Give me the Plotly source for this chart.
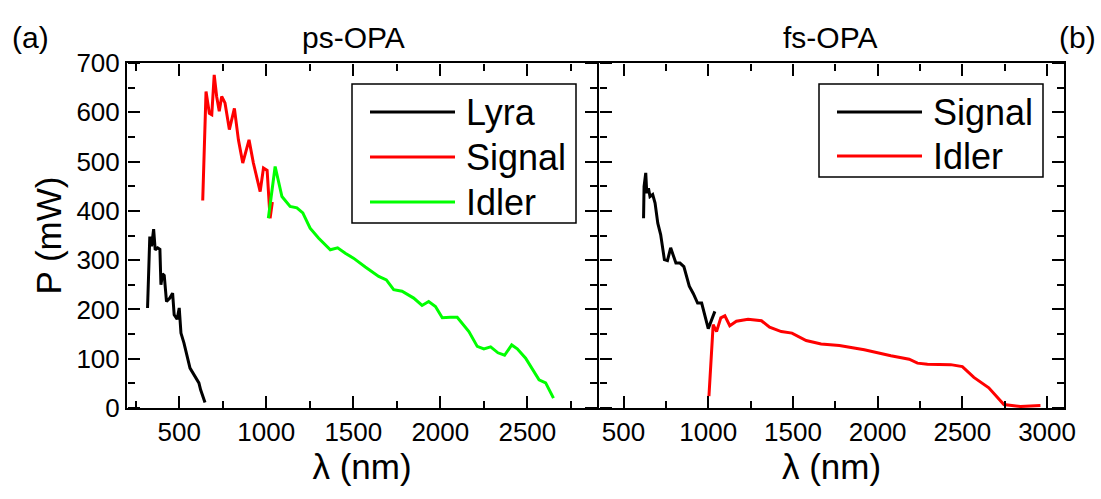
import plotly.graph_objects as go

# ---------------- data ----------------
lyra_x = [318, 331, 341, 353, 362, 376, 389, 395, 404, 414, 427, 446, 462, 471, 488, 500, 510, 527, 562, 613, 623, 648]
lyra_y = [203, 348, 328, 363, 321, 325, 322, 250, 272, 269, 216, 223, 233, 189, 180, 203, 152, 132, 81, 51, 37, 11]

ps_signal_x = [635, 654, 673, 687, 701, 715, 730, 744, 763, 788, 817, 840, 865, 901, 926, 955, 965, 984, 1005, 1022, 1035]
ps_signal_y = [421, 642, 598, 595, 676, 632, 602, 632, 619, 565, 608, 544, 497, 544, 497, 450, 439, 487, 482, 385, 418]

ps_idler_x = [1012, 1051, 1090, 1137, 1176, 1210, 1252, 1300, 1368, 1410, 1454, 1501, 1569, 1646, 1690, 1732, 1780,
              1847, 1895, 1933, 1972, 2011, 2058, 2097, 2164, 2212, 2250, 2289, 2331, 2369, 2410, 2442, 2490, 2567,
              2605, 2650]
ps_idler_y = [385, 490, 429, 409, 406, 396, 365, 345, 321, 325, 314, 304, 286, 267, 260, 240, 237,
              223, 208, 216, 206, 183, 184, 184, 155, 125, 120, 124, 112, 107, 128, 120, 101, 57,
              51, 20]

fs_signal_x = [618, 621, 631, 637, 647, 656, 672, 686, 702, 719, 741, 759, 778, 809, 833, 856, 888, 912, 937, 961, 1000, 1039]
fs_signal_y = [385, 449, 477, 436, 446, 429, 433, 416, 375, 352, 301, 299, 325, 294, 294, 287, 247, 232, 213, 213, 161, 196]

fs_idler_x = [1004, 1029, 1049, 1074, 1098, 1127, 1166, 1235, 1314, 1362, 1431, 1494, 1578, 1666, 1774, 1921,
              2078, 2186, 2235, 2294, 2431, 2500, 2568, 2656, 2745, 2843, 2961]
fs_idler_y = [24, 169, 155, 183, 187, 167, 176, 180, 177, 164, 155, 152, 137, 130, 127, 118,
              106, 99, 91, 89, 88, 84, 62, 41, 7, 3, 5]

panel_titles = ["ps-OPA", "fs-OPA"]
panel_labels = ["(a)", "(b)"]
x_title = "λ (nm)"
y_title = "P (mW)"

FONT = "Liberation Sans, Arial, sans-serif"
BLACK = "#000000"
RED = "#ff0000"
GREEN = "#00ff00"

W, H = 1101, 499
ML, MR, MT, MB = 127, 37, 63, 91
PW, PH = W - ML - MR, H - MT - MB


def px(xp):
    return (xp - ML) / PW


def py(yp):
    return 1 - (yp - MT) / PH


split = px(597)
split2 = split + 2 / PW
X1_RANGE = [200, 2900]
X2_RANGE = [355, 3100]
Y_RANGE = [0, 700]
X_DTICK, Y_DTICK = 500, 100

fig = go.Figure()

LW = 3
series = [
    ("Lyra", lyra_x, lyra_y, BLACK, "x", "y"),
    ("Signal", ps_signal_x, ps_signal_y, RED, "x", "y"),
    ("Idler", ps_idler_x, ps_idler_y, GREEN, "x", "y"),
    ("Signal", fs_signal_x, fs_signal_y, BLACK, "x2", "y2"),
    ("Idler", fs_idler_x, fs_idler_y, RED, "x2", "y2"),
]
for name, xs, ys, col, xa, ya in series:
    fig.add_trace(go.Scatter(x=xs, y=ys, mode="lines", name=name, showlegend=False,
                             line=dict(color=col, width=LW), xaxis=xa, yaxis=ya))

tickfont = dict(family=FONT, size=26, color=BLACK)
title_font = dict(family=FONT, size=35, color=BLACK)

main_axis = dict(showline=True, linecolor=BLACK, linewidth=2, mirror=True, ticks="",
                 showgrid=False, zeroline=False, tickfont=tickfont)

layout = dict(
    width=W, height=H,
    margin=dict(l=ML, r=MR, t=MT, b=MB),
    paper_bgcolor="white", plot_bgcolor="white",
    font=dict(family=FONT, color=BLACK),
    showlegend=False,
    xaxis=dict(domain=[0, split], range=X1_RANGE, tick0=0, dtick=X_DTICK, anchor="y",
               title=dict(text=x_title, font=title_font, standoff=6), **main_axis),
    yaxis=dict(domain=[0, 1], range=Y_RANGE, tick0=0, dtick=Y_DTICK, anchor="x",
               title=dict(text=y_title, font=title_font, standoff=4), **main_axis),
    xaxis2=dict(domain=[split2, 1], range=X2_RANGE, tick0=0, dtick=X_DTICK, anchor="y2",
                title=dict(text=x_title, font=title_font, standoff=6), **main_axis),
    yaxis2=dict(domain=[0, 1], range=Y_RANGE, tick0=0, dtick=Y_DTICK, anchor="x2",
                showticklabels=False, **main_axis),
)

# inward-pointing tick marks on every frame edge: tick-only axes placed on the
# edge, with ticks drawn "outside" towards the plot interior (short + long).
edges = [
    ("x", "x", "y", X1_RANGE, X_DTICK, "top", 0),
    ("x", "x", "y", X1_RANGE, X_DTICK, "bottom", 1),
    ("x", "x2", "y2", X2_RANGE, X_DTICK, "top", 0),
    ("x", "x2", "y2", X2_RANGE, X_DTICK, "bottom", 1),
    ("y", "y", "x", Y_RANGE, Y_DTICK, "right", 0),
    ("y", "y", "x", Y_RANGE, Y_DTICK, "left", split),
    ("y", "y2", "x2", Y_RANGE, Y_DTICK, "right", split2),
    ("y", "y2", "x2", Y_RANGE, Y_DTICK, "left", 1),
]
counter = {"x": 3, "y": 3}
carriers = []
for kind, over, partner, rng, dt, side, pos in edges:
    for step, tlen in [(dt / 2, 7), (dt, 12)]:
        n = counter[kind]
        counter[kind] += 1
        layout[f"{kind}axis{n}"] = dict(
            range=rng, tick0=0, dtick=step, overlaying=over, anchor="free",
            position=pos, side=side, showline=False, showticklabels=False,
            showgrid=False, zeroline=False,
            ticks="outside", ticklen=tlen, tickwidth=2, tickcolor=BLACK)
        carriers.append((f"{kind}{n}", partner) if kind == "x" else (partner, f"{kind}{n}"))

fig.update_layout(**layout)

for xa, ya in carriers:
    fig.add_trace(go.Scatter(x=[None], y=[None], mode="lines", showlegend=False,
                             hoverinfo="skip", xaxis=xa, yaxis=ya))

# ---- legends (box, line sample, label) ----
LEG_FONT = dict(family=FONT, size=36, color=BLACK)
legend_boxes = [(352, 84, 576, 223), (819, 84, 1043, 177)]
legend_items = [
    [("Lyra", BLACK, 112), ("Signal", RED, 157), ("Idler", GREEN, 202)],
    [("Signal", BLACK, 112), ("Idler", RED, 156)],
]
for (x0, y0, x1, y1), items in zip(legend_boxes, legend_items):
    fig.add_shape(type="rect", xref="paper", yref="paper", x0=px(x0), x1=px(x1), y0=py(y1), y1=py(y0),
                  line=dict(color=BLACK, width=1.5), fillcolor="white", layer="above")
    for label, col, yy in items:
        fig.add_shape(type="line", xref="paper", yref="paper", x0=px(x0 + 18), x1=px(x0 + 103),
                      y0=py(yy), y1=py(yy), line=dict(color=col, width=3), layer="above")
        fig.add_annotation(text=label, xref="paper", yref="paper", x=px(x0 + 112), y=py(yy),
                           xanchor="left", yanchor="middle", showarrow=False, font=LEG_FONT)

title_y = py(37)
for txt, xp in [(panel_titles[0], 353), (panel_titles[1], 830), (panel_labels[0], 30), (panel_labels[1], 1077)]:
    fig.add_annotation(text=txt, xref="paper", yref="paper", x=px(xp), y=title_y,
                       showarrow=False, xanchor="center", yanchor="middle", font=dict(family=FONT, size=30))

fig.write_html("out.html")
